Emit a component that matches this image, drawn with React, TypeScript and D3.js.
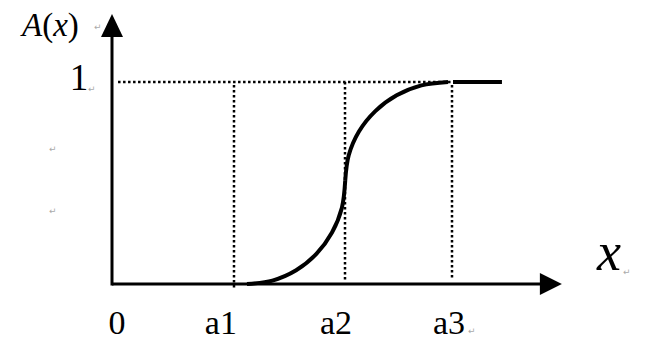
import React from "react";
import * as d3 from "d3";

// ---- data ----
const tickLabels = ["0", "a1", "a2", "a3"];
const tickLabelPos = [0.045, 0.99, 2.036, 3.064];
const breakpoints = [1.11, 2.12, 3.09]; // a1, a2, a3 (dotted guides)
const lowerX = [1.227, 1.458, 1.674, 1.858, 2.0, 2.09, 2.12];
const lowerY = [0, 0.017, 0.068, 0.149, 0.255, 0.378, 0.51];
const upperX = [2.12, 2.152, 2.245, 2.394, 2.588, 2.813, 3.055];
const upperY = [0.51, 0.637, 0.755, 0.856, 0.934, 0.983, 1.0];
const flatX = [3.1, 3.545];
const flatY = [1, 1];
const yTickValue = 1;

const W = 648;
const H = 340;
const FONT = "Liberation Serif";

export default function App() {
  const x = d3.scaleLinear().domain([0, 4]).range([112, 552]);
  const y = d3.scaleLinear().domain([0, 1]).range([284, 82]);

  const line = d3
    .line<[number, number]>()
    .x((d) => x(d[0]))
    .y((d) => y(d[1]))
    .curve(d3.curveCatmullRom.alpha(0.5));
  const straight = d3
    .line<[number, number]>()
    .x((d) => x(d[0]))
    .y((d) => y(d[1]));

  const lower = lowerX.map((v, i) => [v, lowerY[i]] as [number, number]);
  const upper = upperX.map((v, i) => [v, upperY[i]] as [number, number]);
  const flat = flatX.map((v, i) => [v, flatY[i]] as [number, number]);

  const x0 = x(0);
  const y0 = y(0);
  const xEnd = x(4.09);
  const yTop = y(1.337);
  const xArrowBase = x(3.89);
  const yArrowBase = y(1.223);

  const dotted = { stroke: "#000", strokeWidth: 2.5, strokeDasharray: "2.5 2.5", fill: "none" };
  const mark = (px: number, py: number, key: string) => (
    <text key={key} x={px} y={py} fontSize={9} fill="#aaa" fontFamily="DejaVu Sans">
      ↵
    </text>
  );

  return (
    <svg
      width={W}
      height={H}
      style={{ position: "absolute", left: 0, top: 0, background: "#fff" }}
    >
      <rect x={0} y={0} width={W} height={H} fill="#fff" />

      {/* dotted guide lines */}
      <line x1={x(0.055)} x2={x(3.1)} y1={y(yTickValue)} y2={y(yTickValue)} {...dotted} />
      {breakpoints.map((b, i) => (
        <line
          key={"g" + i}
          x1={Math.round(x(b))}
          x2={Math.round(x(b))}
          y1={y(i === 1 ? 1 : 0.985)}
          y2={y(i === 0 ? -0.03 : 0.02)}
          {...dotted}
        />
      ))}

      {/* axes */}
      <line x1={x0} x2={xArrowBase + 2} y1={y0} y2={y0} stroke="#000" strokeWidth={3} />
      <line x1={x0} x2={x0} y1={y0 + 1.5} y2={yArrowBase - 2} stroke="#000" strokeWidth={3} />
      <polygon
        points={`${xArrowBase},${y0 - 11} ${xEnd},${y0} ${xArrowBase},${y0 + 11}`}
        fill="#000"
      />
      <polygon
        points={`${x0 - 11},${yArrowBase} ${x0},${yTop} ${x0 + 11},${yArrowBase}`}
        fill="#000"
      />

      {/* membership curve */}
      <path d={line(lower) || ""} stroke="#000" strokeWidth={4} fill="none" />
      <path d={line(upper) || ""} stroke="#000" strokeWidth={4} fill="none" />
      <path d={straight(flat) || ""} stroke="#000" strokeWidth={4} fill="none" />

      {/* texts */}
      <text x={22} y={36} fontSize={33} fill="#000" fontFamily={FONT}>
        <tspan fontStyle="italic">A</tspan>
        <tspan>(</tspan>
        <tspan fontStyle="italic">x</tspan>
        <tspan>)</tspan>
      </text>
      <text x={79} y={90} fontSize={37} textAnchor="middle" fill="#000" fontFamily={FONT}>
        {String(yTickValue)}
      </text>
      <text x={609} y={270} fontSize={54} fontStyle="italic" textAnchor="middle" fill="#000" fontFamily={FONT}>
        x
      </text>
      {tickLabels.map((t, i) => (
        <text
          key={t}
          x={x(tickLabelPos[i])}
          y={334}
          fontSize={34}
          textAnchor="middle"
          fill="#000"
          fontFamily={FONT}
        >
          {t}
        </text>
      ))}

      {/* paragraph marks */}
      {mark(94, 30, "m1")}
      {mark(88, 92, "m2")}
      {mark(49, 152, "m3")}
      {mark(49, 214, "m4")}
      {mark(623, 275, "m5")}
      {mark(468, 334, "m6")}
    </svg>
  );
}
